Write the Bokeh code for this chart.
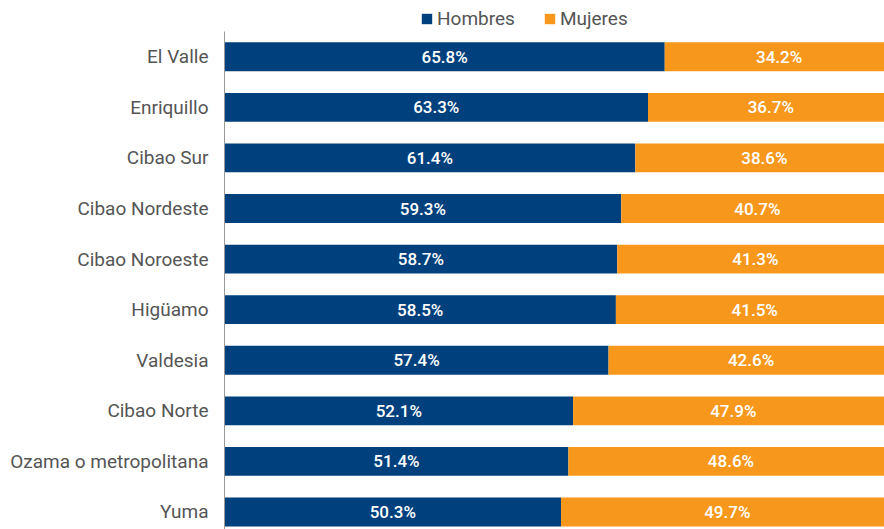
from bokeh.plotting import figure
from bokeh.layouts import column
from bokeh.models import ColumnDataSource, Range1d, FixedTicker, Legend, LegendItem
from bokeh.embed import file_html
from bokeh.resources import INLINE
from bokeh.core.properties import value

regions = ["El Valle", "Enriquillo", "Cibao Sur", "Cibao Nordeste", "Cibao Noroeste",
           "Higüamo", "Valdesia", "Cibao Norte", "Ozama o metropolitana", "Yuma"]
hombres = [65.8, 63.3, 61.4, 59.3, 58.7, 58.5, 57.4, 52.1, 51.4, 50.3]
mujeres = [34.2, 36.7, 38.6, 40.7, 41.3, 41.5, 42.6, 47.9, 48.6, 49.7]
series = ["Hombres", "Mujeres"]

n = len(regions)
pos = [n - 1 - i for i in range(n)]

src = ColumnDataSource(dict(
    y=pos,
    h=hombres,
    m=mujeres,
    tot=[a + b for a, b in zip(hombres, mujeres)],
    hmid=[a / 2 for a in hombres],
    mmid=[a + b / 2 for a, b in zip(hombres, mujeres)],
    hlab=[f"{v:.1f}%" for v in hombres],
    mlab=[f"{v:.1f}%" for v in mujeres],
))

BLUE = "#00407d"
ORANGE = "#f7981d"
LABEL_FONT = value("Roboto Medium, Roboto")

p = figure(width=884, height=498, output_backend="svg", toolbar_location=None,
           x_range=Range1d(0, 98.65), y_range=Range1d(-0.346, n - 0.5),
           min_border_left=224, min_border_right=0, min_border_top=0, min_border_bottom=0)

rh = p.hbar(y="y", left=0, right="h", height=0.57, source=src, color=BLUE, line_color=None)
rm = p.hbar(y="y", left="h", right="tot", height=0.57, source=src, color=ORANGE, line_color=None)

p.text(x="hmid", y="y", text="hlab", source=src, text_color="white",
       text_font=LABEL_FONT, text_font_size="17px", text_font_style="normal",
       text_align="center", text_baseline="middle")
p.text(x="mmid", y="y", text="mlab", source=src, text_color="white",
       text_font=LABEL_FONT, text_font_size="17px", text_font_style="normal",
       text_align="center", text_baseline="middle")

p.xaxis.visible = False
p.xgrid.visible = False
p.ygrid.visible = False
p.outline_line_color = None

ya = p.yaxis[0]
ya.ticker = FixedTicker(ticks=pos)
ya.major_label_overrides = {pp: r for pp, r in zip(pos, regions)}
ya.major_tick_line_color = None
ya.minor_tick_line_color = None
ya.axis_line_color = "#999999"
ya.major_label_text_font = "Roboto"
ya.major_label_text_font_size = "19px"
ya.major_label_text_color = "#555555"
ya.major_label_standoff = 10

# legend strip
lg = figure(width=884, height=31, output_backend="svg", toolbar_location=None,
            x_range=Range1d(0, 1), y_range=Range1d(0, 1),
            min_border_left=0, min_border_right=0, min_border_top=0, min_border_bottom=0)
lg.xaxis.visible = False
lg.yaxis.visible = False
lg.xgrid.visible = False
lg.ygrid.visible = False
lg.outline_line_color = None
nan = float("nan")
proxy = ColumnDataSource(dict(l=[nan], r=[nan], b=[nan], t=[nan]))
lh = lg.quad(left="l", right="r", bottom="b", top="t", source=proxy, color=BLUE, line_color=None)
lm = lg.quad(left="l", right="r", bottom="b", top="t", source=proxy, color=ORANGE, line_color=None)

legend = Legend(items=[LegendItem(label=series[0], renderers=[lh]),
                       LegendItem(label=series[1], renderers=[lm])],
                orientation="horizontal", location=(196, 1),
                padding=0, margin=0, spacing=28, glyph_width=13, glyph_height=13,
                label_standoff=4, label_text_font="Roboto", label_text_font_size="19px",
                label_height=22,
                label_text_color="#555555", border_line_color=None,
                background_fill_alpha=0)
lg.add_layout(legend, "center")

open("out.html", "w").write(file_html(column(lg, p, spacing=0), INLINE))
